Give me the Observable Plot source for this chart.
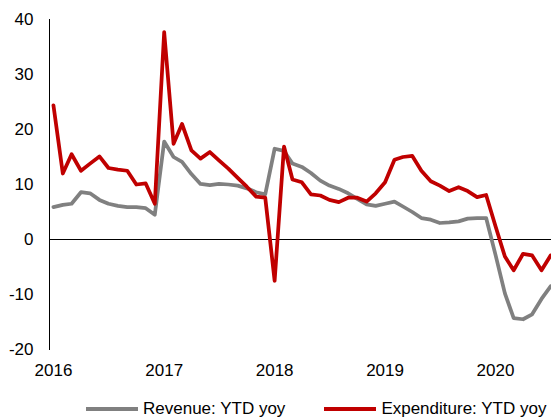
<!DOCTYPE html>
<html>
<head>
<meta charset="utf-8">
<script src="https://cdn.jsdelivr.net/npm/d3@7"></script>
<script src="https://cdn.jsdelivr.net/npm/@observablehq/plot@0.6"></script>
<style>
  body { margin: 0; background: #fff; font-family: "Liberation Sans", Arial, sans-serif; }
  #wrap { width: 551px; height: 419px; overflow: hidden; }
  .legend { height: 38px; display: flex; align-items: center; padding-left: 86px; font-size: 17px; color: #000; white-space: nowrap; }
  .legend .sw { display: inline-block; width: 52px; height: 4px; margin-right: 5px; }
  .legend .item { display: flex; align-items: center; }
</style>
</head>
<body>
<div id="wrap"></div>
<script>
// Monthly series starting January 2016
const startYear = 2016;
const revenueLabel = "Revenue: YTD yoy";
const expenditureLabel = "Expenditure: YTD yoy";
const revenue = [
  5.9, 6.3, 6.5, 8.6, 8.4, 7.2, 6.5, 6.1, 5.9, 5.9, 5.7, 4.5,
  17.8, 15.0, 14.1, 11.9, 10.1, 9.9, 10.1, 10.0, 9.8, 9.3, 8.6, 8.2,
  16.5, 16.1, 13.8, 13.2, 12.1, 10.7, 9.8, 9.2, 8.4, 7.4, 6.4, 6.1,
  6.5, 6.9, 6.0, 5.0, 3.9, 3.6, 3.0, 3.1, 3.3, 3.8, 3.9, 3.9,
  -2.8, -9.8, -14.3, -14.5, -13.6, -10.8, -8.5
];
const expenditure = [
  24.4, 12.0, 15.5, 12.5, 13.8, 15.1, 13.0, 12.7, 12.5, 10.0, 10.2, 6.5,
  37.7, 17.4, 21.0, 16.2, 14.7, 15.9, 14.4, 12.9, 11.2, 9.6, 7.8, 7.6,
  -7.5, 16.9, 10.9, 10.4, 8.2, 8.0, 7.2, 6.8, 7.6, 7.6, 6.9, 8.4,
  10.4, 14.5, 15.0, 15.2, 12.5, 10.6, 9.8, 8.8, 9.5, 8.8, 7.7, 8.1,
  2.4, -3.1, -5.6, -2.6, -2.9, -5.6, -2.9
];
const yTicks = [-20, -10, 0, 10, 20, 30, 40];
const xTickYears = [2016, 2017, 2018, 2019, 2020];

const start = new Date(Date.UTC(startYear, 0, 1));
const rows = [];
revenue.forEach((v, i) => rows.push({date: d3.utcMonth.offset(start, i), value: v, series: revenueLabel}));
expenditure.forEach((v, i) => rows.push({date: d3.utcMonth.offset(start, i), value: v, series: expenditureLabel}));

const xTicks = xTickYears.map(y => new Date(Date.UTC(y, 0, 1)));
const dayMs = 864e5;
const colors = {[revenueLabel]: "#808080", [expenditureLabel]: "#C00000"};

const chart = Plot.plot({
  width: 551,
  height: 390,
  marginLeft: 49,
  marginRight: 0,
  marginTop: 19,
  marginBottom: 41,
  style: {fontFamily: "'Liberation Sans', Arial, sans-serif", fontSize: "17px", color: "#000", background: "#fff"},
  x: {type: "utc", domain: [new Date(start.getTime() - 13 * dayMs), new Date(Date.UTC(2020, 6, 4))]},
  y: {domain: [-20, 40]},
  color: {domain: [revenueLabel, expenditureLabel], range: ["#808080", "#C00000"]},
  marks: [
    Plot.frame({anchor: "left", stroke: "#000", strokeWidth: 1}),
    Plot.ruleY([0], {stroke: "#000", strokeWidth: 1}),
    Plot.lineY(rows, {x: "date", y: "value", z: "series", stroke: "series", strokeWidth: 3.75, strokeLinejoin: "round", clip: true}),
    Plot.axisY({ticks: yTicks, tickSize: 0, tickPadding: 16, tickFormat: d => String(d), label: null, fontSize: 17}),
    Plot.axisX({ticks: xTicks, tickSize: 0, tickPadding: 14, tickFormat: d3.utcFormat("%Y"), label: null, fontSize: 17})
  ]
});

const wrap = document.getElementById("wrap");
wrap.appendChild(chart);
const legend = document.createElement("div");
legend.className = "legend";
[revenueLabel, expenditureLabel].forEach((s, i) => {
  const item = document.createElement("div");
  item.className = "item";
  if (i > 0) item.style.marginLeft = "39px";
  const sw = document.createElement("span");
  sw.className = "sw";
  sw.style.background = colors[s];
  const t = document.createElement("span");
  t.textContent = s;
  item.appendChild(sw);
  item.appendChild(t);
  legend.appendChild(item);
});
wrap.appendChild(legend);
</script>
</body>
</html>
